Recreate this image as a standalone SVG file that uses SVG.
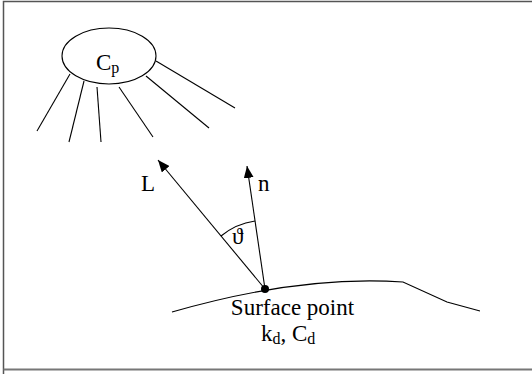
<svg xmlns="http://www.w3.org/2000/svg" width="532" height="374" viewBox="0 0 532 374">
<defs>
<style>
.ln{fill:none;stroke:#000;stroke-width:1.1}
.t{font-family:"Liberation Serif","DejaVu Serif",serif;font-size:23px;fill:#000}
.s{font-size:16px}
</style>
<marker id="ah" viewBox="0 0 12 10" refX="12" refY="5" markerWidth="12" markerHeight="10" markerUnits="userSpaceOnUse" orient="auto">
<path d="M0,0 L12,5 L0,10 Z" fill="#000"/>
</marker>
</defs>
<rect x="0" y="0" width="532" height="374" fill="#fff"/>
<path d="M3.5,374 V1.5 H532" fill="none" stroke="#555" stroke-width="1.5"/>
<path d="M3.5,369.5 H532" fill="none" stroke="#777" stroke-width="2"/>
<g id="light">
<ellipse cx="109" cy="56" rx="47" ry="28" class="ln"/>
<text class="t" x="96" y="70">C<tspan class="s" dy="3">p</tspan></text>
<g id="rays">
<line class="ln" x1="70" y1="74" x2="37" y2="131"/>
<line class="ln" x1="84" y1="81" x2="69" y2="142"/>
<line class="ln" x1="97" y1="87" x2="101" y2="142"/>
<line class="ln" x1="119" y1="87" x2="153" y2="137"/>
<line class="ln" x1="146" y1="76" x2="209" y2="128"/>
<line class="ln" x1="156" y1="61" x2="235" y2="108"/>
</g>
</g>
<g id="surface">
<path class="ln" d="M172,312 Q300,275 403,282 L447,302 L480,311"/>
<circle cx="265" cy="289" r="4" fill="#000"/>
<text class="t" x="292.5" y="315" text-anchor="middle">Surface point</text>
<text class="t" x="261" y="341">k<tspan class="s" dy="3">d</tspan><tspan dy="-3">, C</tspan><tspan class="s" dy="3">d</tspan></text>
</g>
<g id="connectors">
<line class="ln" x1="265" y1="289" x2="158" y2="160" marker-end="url(#ah)"/>
<line class="ln" x1="265" y1="289" x2="247" y2="166" marker-end="url(#ah)"/>
<path class="ln" d="M221,236 A69,69 0 0 1 255,221"/>
</g>
<g id="labels">
<text class="t" x="141" y="191">L</text>
<text class="t" x="258" y="191">n</text>
<text class="t" x="232" y="244">ϑ</text>
</g>
</svg>
